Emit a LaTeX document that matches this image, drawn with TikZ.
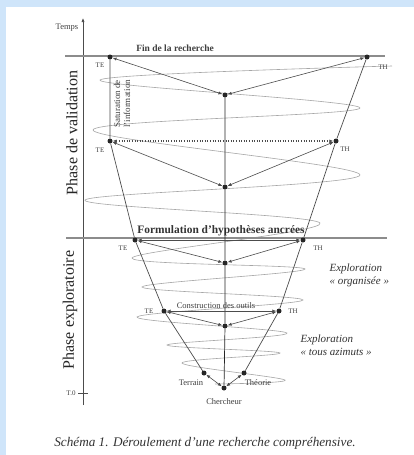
\documentclass[tikz,border=0pt]{standalone}
\usepackage{fontspec}
\setmainfont{Liberation Serif}
\usetikzlibrary{arrows.meta}
\definecolor{framebg}{RGB}{207,229,250}

\begin{document}
\begin{tikzpicture}[x=1pt,y=-1pt,>={Latex[length=4pt,width=3.2pt]},font=\small]
\tikzstyle{pt}=[circle,fill=black!85,inner sep=0pt,minimum size=5pt]
\tikzstyle{lnk}=[<->,draw=black!70,line width=0.6pt]
\tikzstyle{side}=[draw=black!70,line width=0.7pt]
\tikzstyle{bar}=[draw=black!45,line width=2.2pt]
\tikzstyle{tag}=[font=\fontsize{7}{8}\selectfont,text=black!75,inner sep=1pt]
\tikzstyle{lab}=[font=\fontsize{8.5}{9}\selectfont,text=black!75,inner sep=1pt]
\tikzstyle{phase}=[rotate=90,font=\fontsize{16}{18}\selectfont,text=black!85]
\tikzstyle{expl}=[font=\fontsize{11}{13}\selectfont\itshape,text=black!80,align=left,anchor=west]
\fill[framebg] (0,0) rectangle (414,455); \fill[white] (6,7) rectangle (414,455);
\useasboundingbox (0,0) rectangle (414,455);
\draw[black!35,line width=0.6pt] plot[smooth,tension=0.55] coordinates {(392,66) (100,80) (360,108) (93,130) (360,175) (85,200) (320,223) (132,258) (305,269) (142,287) (303,300) (137,317) (287,333) (167,345) (280,353) (182,363) (285,380) (215,384)};
\coordinate (t0) at (83,405); \coordinate (ttop) at (83,18); \coordinate (tick) at (83,393);
\draw[->,black!70,line width=0.7pt] (t0) -- (ttop); \draw[black!70,line width=0.7pt] ([xshift=-5pt]tick) -- ([xshift=5pt]tick);
\node[tag,font=\fontsize{8.5}{9}\selectfont] (temps) at (67,28) {Temps}; \node[tag] (tzero) at (71,393) {T.0};
\coordinate (finw) at (65,56); \coordinate (fine) at (385,56); \coordinate (formw) at (66,238); \coordinate (forme) at (387,238);
\draw[bar] (finw) -- (fine); \draw[bar] (formw) -- (forme);
\node[font=\fontsize{9.5}{10}\selectfont\bfseries,text=black!75] (fin) at (175,48) {Fin de la recherche};
\node[font=\fontsize{11.4}{12}\selectfont\bfseries,text=black!80] (form) at (221,231) {Formulation d’hypothèses ancrées};
\node[pt] (te1) at (110,57) {}; \node[pt] (th1) at (367,57) {}; \node[pt] (c1) at (225,95) {};
\node[pt] (te2) at (110,141) {}; \node[pt] (th2) at (336,141) {}; \node[pt] (c2) at (225,187) {};
\node[pt] (te3) at (135,240) {}; \node[pt] (th3) at (303,240) {}; \node[pt] (c3) at (225,263) {};
\node[pt] (te4) at (164,311) {}; \node[pt] (th4) at (279,311) {}; \node[pt] (c4) at (225,326) {};
\node[pt] (ter) at (204,373) {}; \node[pt] (theo) at (244,373) {}; \node[pt] (ch) at (224,388) {};
\draw[side] (te1) -- (te2) -- (te3) -- (te4) -- (ter); \draw[side] (th1) -- (th2) -- (th3) -- (th4) -- (theo);
\draw[black!85,line width=0.7pt] (c1) -- (c2) -- (c3) -- (c4) -- (ch);
\draw[lnk] (te1) -- (c1); \draw[lnk] (th1) -- (c1); \draw[lnk] (te2) -- (c2); \draw[lnk] (th2) -- (c2);
\draw[lnk] (te3) -- (c3); \draw[lnk] (th3) -- (c3); \draw[lnk] (te4) -- (c4); \draw[lnk] (th4) -- (c4);
\draw[lnk] (ter) -- (ch); \draw[lnk] (theo) -- (ch);
\draw[lnk,dotted,line width=1.2pt] (te2) -- (th2); \draw[lnk,line width=1pt] (te3) -- (th3); \draw[lnk] (te4) -- (th4);
\node[tag] (lte1) at (100,65) {TE}; \node[tag] (lth1) at (383,67) {TH};
\node[tag] (lte2) at (100,150) {TE}; \node[tag] (lth2) at (345,149) {TH};
\node[tag] (lte3) at (123,248) {TE}; \node[tag] (lth3) at (318,248) {TH};
\node[tag] (lte4) at (149,311) {TE}; \node[tag] (lth4) at (293,311) {TH};
\node[rotate=90,align=center,font=\fontsize{9}{10}\selectfont,text=black!75,inner sep=0pt] (sat) at (122,104) {Saturation de\\l’information};
\node[lab] (cons) at (216,306) {Construction des outils};
\node[lab] (lter) at (191,383) {Terrain}; \node[lab] (ltheo) at (258,383) {Théorie}; \node[lab] (lch) at (224,402) {Chercheur};
\node[phase] (pval) at (72,133) {Phase de validation}; \node[phase] (pexp) at (70,310) {Phase exploratoire};
\node[expl] (eorg) at (326,275) {Exploration\\« organisée »}; \node[expl] (etous) at (297,345) {Exploration\\« tous azimuts »};
\node[font=\fontsize{13.2}{14}\selectfont\itshape,text=black!80] (cap) at (205,443) {Schéma 1. Déroulement d’une recherche compréhensive.};
\end{tikzpicture}
\end{document}
